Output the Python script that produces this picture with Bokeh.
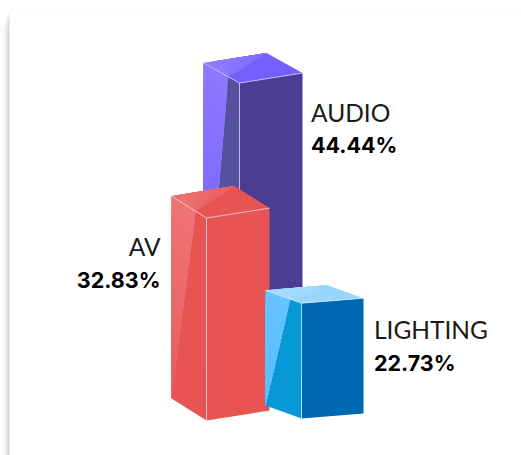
from bokeh.core.properties import value
from bokeh.embed import file_html
from bokeh.models import Range1d
from bokeh.plotting import figure
from bokeh.resources import INLINE

# Series
categories = ["AUDIO", "AV", "LIGHTING"]
shares = [44.44, 32.83, 22.73]
share_labels = ["44.44%", "32.83%", "22.73%"]

# Column scale: pixels per percentage point above the hidden floor of the value axis
FLOOR = 9.35
PX_PER_POINT = 8.62


def column_height(share):
    return (share - FLOOR) * PX_PER_POINT


# Footprint of each column: (left, front, right) corners as (x, y) at ground level
footprints = {
    "AUDIO": ((203, 365), (239, 385), (302, 375)),
    "AV": ((171, 398), (206, 420), (269, 410)),
    "LIGHTING": ((265, 405), (301, 418), (363, 413)),
}
palettes = {
    "AUDIO": dict(side="#55519e", front="#4c3c94", top="#7460ff", top_hi="#8f7dff",
                  gloss_hi="#8d78ff", gloss_lo="#6b58ff", edge="#c9c5f5"),
    "AV": dict(side="#e85353", front="#e85353", top="#e85353", top_hi="#ec7272",
               gloss_hi="#ee7474", gloss_lo="#e85c5c", edge="#f6cfcf"),
    "LIGHTING": dict(side="#0897d6", front="#0067b2", top="#99d6ff", top_hi="#a6dcff",
                     gloss_hi="#66c4ff", gloss_lo="#55bcff", edge="#cdeaff"),
}
draw_order = ["AUDIO", "AV", "LIGHTING"]
label_layout = {
    "AUDIO": dict(x=310.5, y_name=112, y_value=144, align="left"),
    "AV": dict(x=160, y_name=246, y_value=279, align="right"),
    "LIGHTING": dict(x=373.5, y_name=329, y_value=362, align="left"),
}

p = figure(width=521, height=455, output_backend="svg", toolbar_location=None,
           x_range=Range1d(0, 521), y_range=Range1d(455, 0),
           min_border=0, outline_line_color=None, background_fill_color="white")
p.axis.visible = False
p.grid.visible = False


def mix(a, b, t):
    ca = [int(a[i:i + 2], 16) for i in (1, 3, 5)]
    cb = [int(b[i:i + 2], 16) for i in (1, 3, 5)]
    return "#%02x%02x%02x" % tuple(round(x + (y - x) * t) for x, y in zip(ca, cb))


def face(xs, ys, color):
    p.patch(xs, ys, fill_color=color, line_color=None)


# Soft card shadow along the left and top edges
for i, alpha in enumerate([0.01, 0.015, 0.02, 0.03, 0.04, 0.055, 0.07, 0.09, 0.11]):
    p.quad(left=i, right=9, top=12 + (8 - i) * 2, bottom=455, fill_color="#000000",
           fill_alpha=alpha * 0.4, line_color=None)
p.quad(left=9, right=521, top=10, bottom=11, fill_color="#000000", fill_alpha=0.025, line_color=None)

for name in draw_order:
    share = shares[categories.index(name)]
    colors = palettes[name]
    (lx, ly), (fx, fy), (rx, ry) = footprints[name]
    h = column_height(share)
    ltx, lty = lx, ly - h
    ftx, fty = fx, fy - h
    rtx, rty = rx, ry - h
    btx, bty = lx + rx - fx, ly + ry - fy - h
    # Point on the top-left edge where the glossy wedge starts
    gx = lx + (fx - lx) * 0.69
    gy = lty + (fty - lty) * 0.69

    face([fx, rx, rtx, ftx], [fy, ry, rty, fty], colors["front"])
    face([lx, fx, ftx, ltx], [ly, fy, fty, lty], colors["side"])

    # Glossy wedge on the left face, banded from its top down to the ground corner
    bands = 24
    for b in range(bands):
        t = b / bands
        bx = ltx + (lx - ltx) * t
        ex = gx + (lx - gx) * t
        by = lty + (ly - lty) * t
        ey = gy + (ly - gy) * t
        face([bx, ex, lx], [by, ey, ly], mix(colors["gloss_hi"], colors["gloss_lo"], t))

    # Top face with its lighter left half, fading only part of the way to the base colour
    face([ltx, btx, rtx, ftx], [lty, bty, rty, fty], colors["top"])
    for b in range(12):
        t = b / 12
        sx = ltx + (btx - ltx) * t
        sy = lty + (bty - lty) * t
        face([sx, btx, gx], [sy, bty, gy], mix(colors["top_hi"], colors["top"], t * 0.55))

    # Highlighted edges meeting at the front top corner
    p.line([ltx, ftx, rtx], [lty, fty, rty], line_color=colors["edge"], line_width=1, line_alpha=0.85)
    p.line([ftx, fx], [fty, fy], line_color=colors["edge"], line_width=1, line_alpha=0.85)

for name, label in zip(categories, share_labels):
    spot = label_layout[name]
    p.text([spot["x"]], [spot["y_name"]], text=[name], text_align=spot["align"],
           text_baseline="alphabetic", text_font=value("Lato"),
           text_font_size="24.5px", text_color="#1a1a1a")
    p.text([spot["x"]], [spot["y_value"]], text=[label], text_align=spot["align"],
           text_baseline="alphabetic", text_font=value("Inter"),
           text_font_style="bold", text_font_size="21.5px", text_color="#000000")

open("out.html", "w").write(file_html(p, INLINE))
